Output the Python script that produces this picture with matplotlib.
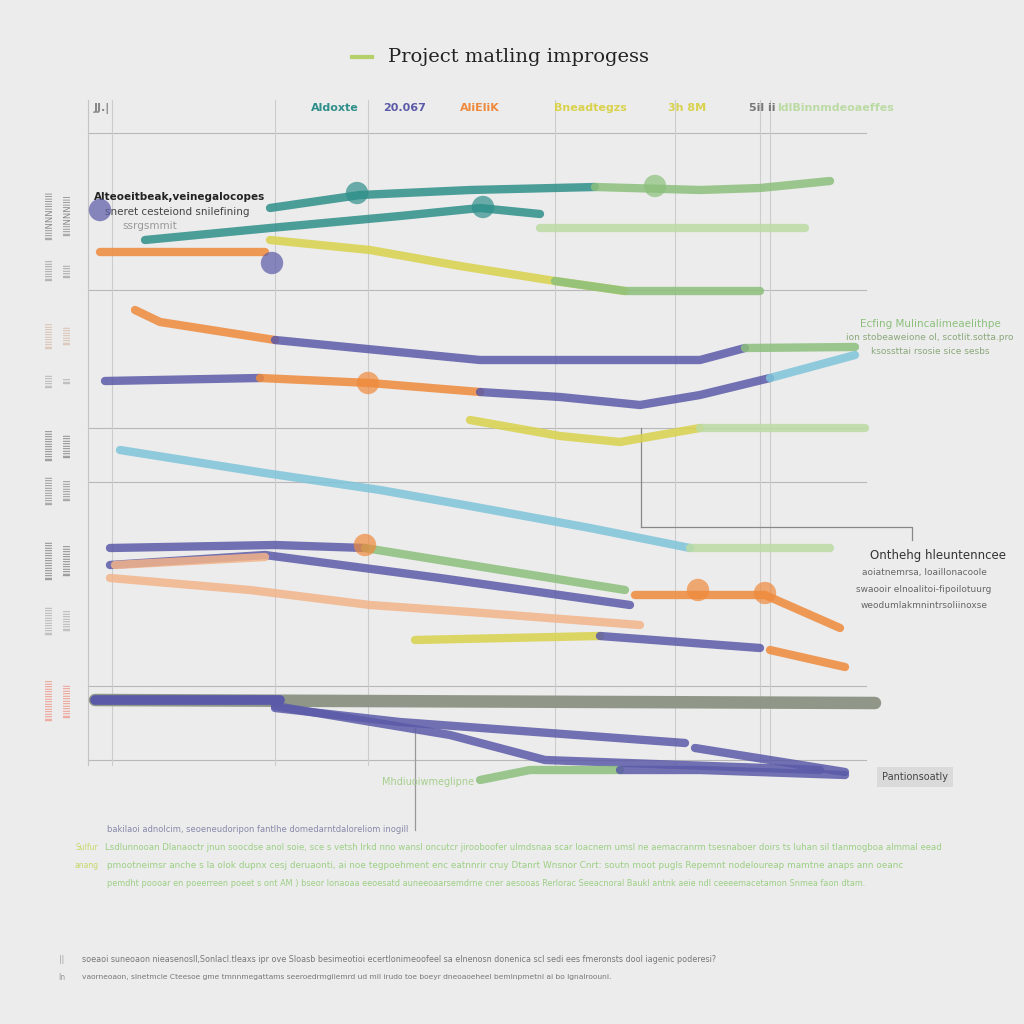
import matplotlib.pyplot as plt

# colours seen in the picture
TEAL = "#2f8f8a"
GREEN = "#8cc07c"
LGREEN = "#bcdba4"
ORANGE = "#ef8a3c"
PURPLE = "#5a5aa8"
LBLUE = "#7fc4da"
YELLOW = "#d9d24c"
GRAY = "#8b9384"
LORANGE = "#f3b48a"

title = "Project matling improgess"

# top legend row
legend_labels = ["JJ.|", "Aldoxte", "20.067", "AliEliK", "Bneadtegzs", "3h 8M", "5il ii", "ldlBinnmdeoaeffes"]
legend_x = [102, 335, 405, 480, 590, 687, 762, 836]
legend_colors = ["#888888", TEAL, PURPLE, ORANGE, YELLOW, YELLOW, "#777777", LGREEN]

# grid positions (horizontal and vertical rules)
hgrid_y = [133, 290, 428, 482, 686, 760]
vgrid_x = [112, 275, 368, 555, 675, 760, 770]

# progress traces: each piece is (x values, y values, colour)
traces = [
    [([270, 360, 470, 595], [208, 195, 190, 187], TEAL),
     ([595, 700, 760, 830], [187, 190, 188, 181], GREEN)],
    [([145, 270, 400, 480, 540], [240, 228, 216, 208, 214], TEAL)],
    [([540, 700, 805], [228, 228, 228], LGREEN)],
    [([100, 265], [252, 252], ORANGE)],
    [([270, 370, 460, 555, 625], [240, 250, 266, 281, 291], YELLOW),
     ([555, 625, 760], [281, 291, 291], GREEN)],
    [([135, 160, 275], [310, 322, 340], ORANGE),
     ([275, 480, 700, 745], [340, 360, 360, 348], PURPLE),
     ([745, 855], [348, 347], GREEN)],
    [([105, 260], [381, 378], PURPLE),
     ([260, 370, 480], [378, 383, 392], ORANGE),
     ([480, 560, 640, 700, 770], [392, 397, 405, 395, 378], PURPLE),
     ([770, 855], [378, 355], LBLUE)],
    [([470, 560, 620, 700], [420, 436, 442, 428], YELLOW),
     ([700, 865], [428, 428], LGREEN)],
    [([120, 265, 380, 470, 590, 690], [450, 473, 490, 506, 528, 548], LBLUE),
     ([690, 830], [548, 548], LGREEN)],
    [([110, 275, 365], [548, 545, 548], PURPLE),
     ([365, 470, 625], [548, 565, 590], GREEN)],
    [([110, 265, 440, 630], [565, 555, 578, 605], PURPLE)],
    [([115, 265], [565, 557], LORANGE)],
    [([110, 250, 370, 470, 640], [578, 590, 605, 612, 625], LORANGE)],
    [([635, 765, 840], [595, 595, 628], ORANGE)],
    [([770, 845], [650, 667], ORANGE)],
    [([415, 600], [640, 636], YELLOW),
     ([600, 760], [636, 648], PURPLE)],
    [([275, 400, 685], [708, 722, 743], PURPLE)],
    [([275, 450, 545, 820], [706, 735, 760, 770], PURPLE)],
    [([695, 845], [748, 772], PURPLE)],
    [([480, 530, 620], [780, 770, 770], GREEN),
     ([620, 700, 845], [770, 770, 775], PURPLE)],
]

# long grey bar across the bottom band
bar_x = [95, 875]
bar_y = [700, 703]

# blob markers on the traces
blob_x = [357, 655, 483, 368, 272, 365, 698, 765, 100]
blob_y = [193, 186, 207, 383, 263, 545, 590, 593, 210]
blob_c = [TEAL, GREEN, TEAL, ORANGE, PURPLE, ORANGE, ORANGE, ORANGE, PURPLE]

# side notes
notes = [
    (180, 197, "Alteoeitbeak,veinegalocopes", "#222222", 7.5, "bold"),
    (177, 212, "sneret cesteiond snilefining", "#444444", 7.5, "normal"),
    (150, 226, "ssrgsmmit", "#999999", 7.5, "normal"),
    (930, 324, "Ecfing Mulincalimeaelithpe", GREEN, 7.5, "normal"),
    (930, 338, "ion stobeaweione ol, scotlit.sotta.pro", "#8aa87a", 6.5, "normal"),
    (930, 352, "ksossttai rsosie sice sesbs", "#8aa87a", 6.5, "normal"),
    (938, 555, "Onthehg hleuntenncee", "#333333", 8.5, "normal"),
    (924, 573, "aoiatnemrsa, loaillonacoole", "#666666", 6.5, "normal"),
    (924, 589, "swaooir elnoalitoi-fipoilotuurg", "#666666", 6.5, "normal"),
    (924, 605, "weodumlakmnintrsoliinoxse", "#666666", 6.5, "normal"),
    (428, 782, "Mhdiuoiwmeglipne", "#a6cf8e", 7, "normal"),
]

# footer text lines: left x, y, text, colour, size
footer_lines = [
    (107, 829, "bakilaoi adnolcim, seoeneudoripon fantlhe domedarntdaloreliom inogill", "#8888aa", 6),
    (105, 847, "Lsdlunnooan Dlanaoctr jnun soocdse anol soie, sce s vetsh lrkd nno wansl oncutcr jirooboofer ulmdsnaa scar loacnem umsl ne aemacranrm tsesnaboer doirs ts luhan sil tlanmogboa almmal eead", "#9ccf84", 6.1),
    (107, 866, "pmootneimsr anche s la olok dupnx cesj deruaonti, ai noe tegpoehment enc eatnnrir cruy Dtanrt Wnsnor Cnrt: soutn moot pugls Repemnt nodeloureap mamtne anaps ann oeanc", "#9ccf84", 6.4),
    (107, 884, "pemdht poooar en poeerreen poeet s ont AM ) bseor lonaoaa eeoesatd auneeoaarsemdrne cner aesooas Rerlorac Seeacnoral Baukl antnk aeie ndl ceeeemacetamon Snmea faon dtam.", "#9ccf84", 5.85),
    (82, 960, "soeaoi suneoaon nieasenosll,Sonlacl.tleaxs ipr ove Sloasb besimeotioi ecertlonimeoofeel sa elnenosn donenica scl sedi ees fmeronsts dool iagenic poderesi?", "#777777", 5.8),
    (82, 977, "vaorneoaon, slnetmcle Cteesoe gme tmnnmegattams seeroedrmgliemrd ud mll irudo toe boeyr dneoaoeheel bemlnpmetnl ai bo lgnalroounl.", "#777777", 5.4),
]

# rotated y tick labels on the left
ylab_y = [215, 270, 335, 380, 445, 490, 560, 620, 700]
ylab_text = ["IIIIINNNIIIIIII", "IIIIIIIII", "IIIIIIIIIII", "IIIIII", "IIIIIIIIIIIII", "IIIIIIIIIIII", "IIIIIIIIIIIIIIII", "IIIIIIIIIIII", "IIIIIIIIIIIIIIIII"]
ylab_color = ["#888888", "#999999", "#d6b8a4", "#aaaaaa", "#777777", "#888888", "#777777", "#aaaaaa", "#ef8a7a"]


fig = plt.figure(figsize=(10.24, 10.24), dpi=100)
fig.patch.set_facecolor("#ececec")
ax = fig.add_axes([0, 0, 1, 1])
ax.set_facecolor("#ececec")
ax.set_xlim(0, 1024)
ax.set_ylim(1024, 0)
ax.axis("off")

# grid
for y in hgrid_y:
    ax.plot([88, 866], [y, y], color="#b8b8b8", lw=0.8, zorder=1)
for x in vgrid_x:
    ax.plot([x, x], [100, 765], color="#cccccc", lw=0.8, zorder=1)
ax.plot([88, 88], [100, 765], color="#c4c4c4", lw=0.8, zorder=1)
ax.plot([641, 641], [428, 527], color="#888888", lw=0.9, zorder=1)
ax.plot([641, 912, 912], [527, 527, 540], color="#888888", lw=0.9, zorder=1)
ax.plot([415, 415], [728, 830], color="#999999", lw=0.9, zorder=1)

# grey bar
ax.plot(bar_x, bar_y, color=GRAY, lw=9, solid_capstyle="round", alpha=0.95, zorder=2)
ax.plot([bar_x[0], 280], [bar_y[0], bar_y[0]], color=PURPLE, lw=7, solid_capstyle="round", zorder=2)

# traces
for trace in traces:
    for xs, ys, c in trace:
        ax.plot(xs, ys, color=c, lw=6, alpha=0.85, solid_capstyle="round",
                solid_joinstyle="round", zorder=3)

ax.scatter(blob_x, blob_y, s=260, c=blob_c, alpha=0.7, edgecolors="none", zorder=4)

# title
ax.plot([352, 372], [57, 57], color="#b5cf6a", lw=3)
ax.text(388, 57, title, fontsize=14, family="DejaVu Serif", color="#222222",
        ha="left", va="center")

# legend row
for lx, lab, lc in zip(legend_x, legend_labels, legend_colors):
    ax.text(lx, 108, lab, fontsize=8, color=lc, ha="center", va="center", fontweight="bold")

for x, y, s, c, fs, fw in notes:
    ax.text(x, y, s, fontsize=fs, color=c, ha="center", va="center", fontweight=fw)

# label box bottom right
ax.text(915, 777, "Pantionsoatly", fontsize=7, color="#444444", ha="center", va="center",
        bbox=dict(boxstyle="square,pad=0.5", fc="#dadada", ec="none"))

for x, y, s, c, fs in footer_lines:
    ax.text(x, y, s, fontsize=fs, color=c, ha="left", va="center")
ax.text(87, 847, "Sulfur", fontsize=5.5, color="#c8d86a", ha="center", va="center")
ax.text(87, 866, "anang", fontsize=5.5, color="#c8d86a", ha="center", va="center")
ax.text(62, 960, "||", fontsize=5.5, color="#999999", ha="center", va="center")
ax.text(62, 977, "In", fontsize=5.5, color="#999999", ha="center", va="center")

for y, s, c in zip(ylab_y, ylab_text, ylab_color):
    ax.text(50, y, s, fontsize=6, color=c, rotation=90, ha="center", va="center")
    ax.text(68, y, s[:-3], fontsize=6, color=c, rotation=90, ha="center", va="center")

fig.savefig("out.png", dpi=100, facecolor=fig.get_facecolor())
